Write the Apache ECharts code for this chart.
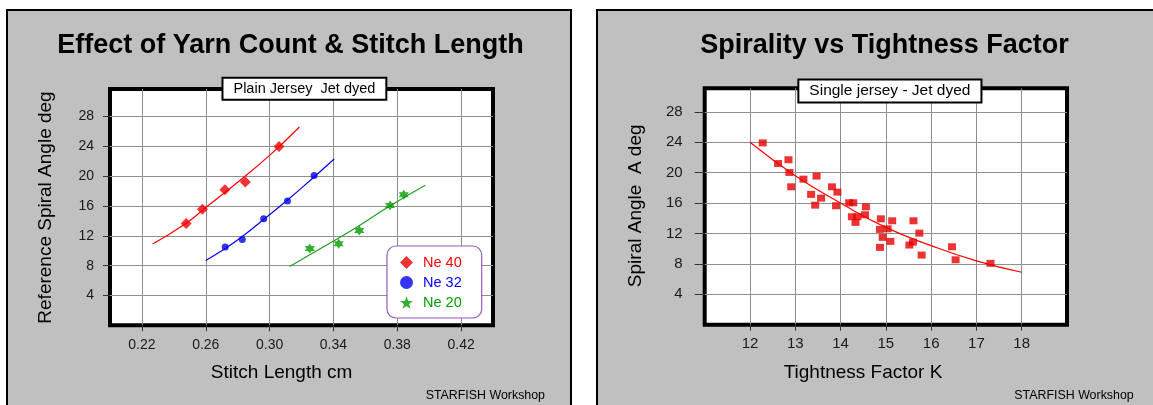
<!DOCTYPE html>
<html>
<head>
<meta charset="utf-8">
<script src="https://cdn.jsdelivr.net/npm/echarts@6/dist/echarts.min.js"></script>
<style>
  html, body { margin: 0; padding: 0; background: #ffffff; }
  .panel { position: absolute; box-sizing: border-box; border: 2px solid #000; background: #c0c0c0; }
  #p1 { left: 6px; top: 9px; width: 566px; height: 430px; }
  #p2 { left: 596px; top: 9px; width: 620px; height: 430px; }
  #chart { position: absolute; left: 0; top: 0; width: 1153px; height: 405px; }
</style>
</head>
<body>
<div class="panel" id="p1"></div>
<div class="panel" id="p2"></div>
<div id="chart"></div>
<script>
// ---- Left chart data: Effect of Yarn Count & Stitch Length ----
const ne40 = [[0.2477, 13.65], [0.2579, 15.58], [0.2720, 18.17], [0.2848, 19.24], [0.3059, 23.97]];
const ne32 = [[0.2722, 10.49], [0.2829, 11.50], [0.2963, 14.28], [0.3112, 16.69], [0.3279, 20.09]];
const ne20 = [[0.3252, 10.30], [0.3433, 10.93], [0.3562, 12.71], [0.3755, 16.06], [0.3841, 17.50]];
const fit40 = [[0.2267, 10.9], [0.2477, 13.7], [0.2600, 15.8], [0.2800, 19.2], [0.3000, 22.8], [0.3187, 26.6]];
const fit32 = [[0.2600, 8.7], [0.2722, 10.3], [0.2829, 11.9], [0.2963, 14.2], [0.3112, 16.8], [0.3279, 19.9], [0.3405, 22.3]];
const fit20 = [[0.3126, 7.9], [0.3400, 11.3], [0.3556, 13.3], [0.3748, 15.95], [0.3976, 18.8]];
const leftXTicks = [0.22, 0.26, 0.30, 0.34, 0.38, 0.42];
const yTicks = [4, 8, 12, 16, 20, 24, 28];

// ---- Right chart data: Spirality vs Tightness Factor ----
const tfPoints = [
  [12.28, 23.92], [12.62, 21.2], [12.85, 21.7], [12.87, 20.03], [12.91, 18.14],
  [13.18, 19.15], [13.47, 19.55], [13.35, 17.14], [13.57, 16.65], [13.44, 15.73],
  [13.81, 18.14], [13.93, 17.44], [13.90, 15.64], [14.19, 16.04], [14.28, 16.04],
  [14.56, 15.51], [14.25, 14.2], [14.37, 14.2], [14.33, 13.46], [14.54, 14.46],
  [14.89, 13.93], [15.14, 13.67], [14.87, 12.54], [15.04, 12.62], [14.93, 11.49],
  [14.87, 10.17], [15.10, 10.96], [15.61, 13.67], [15.74, 12.05], [15.52, 10.48],
  [15.60, 10.87], [15.79, 9.16], [16.46, 10.25], [16.54, 8.54], [17.31, 8.07]
];
const fitTF = [[12, 24.0], [13, 19.6], [14, 16.0], [15, 12.8], [16, 10.4], [17, 8.4], [18, 6.9]];
const rightXTicks = [12, 13, 14, 15, 16, 17, 18];

const FONT = "'Liberation Sans', Arial, Helvetica, sans-serif";
const HEXAGRAM = 'path://M0,-10L8.66,5L-8.66,5Z M0,10L-8.66,-5L8.66,-5Z';
const STAR5 = 'path://M0,-10L2.35,-3.24L9.51,-3.09L3.8,1.24L5.88,8.09L0,4L-5.88,8.09L-3.8,1.24L-9.51,-3.09L-2.35,-3.24Z';
const GRID_LINE = '#8f8f8f';
const LABEL_COLOR = '#1a1a1a';

function xAxisCfg(gridIndex, min, max, interval, ticks, fontSize, margin) {
  return {
    type: 'value', gridIndex, min, max, interval,
    axisLine: { show: false },
    axisTick: { show: true, length: 6, customValues: ticks, lineStyle: { color: '#333', width: 1 } },
    axisLabel: { customValues: ticks, color: LABEL_COLOR, fontSize, fontFamily: FONT, margin,
      formatter: v => (interval < 1 ? v.toFixed(2) : String(v)) },
    splitLine: { show: true, lineStyle: { color: GRID_LINE, width: 1 } }
  };
}
function yAxisCfg(gridIndex, max, fontSize, margin, tickLen) {
  return {
    type: 'value', gridIndex, min: 0, max, interval: 4,
    axisLine: { show: false },
    axisTick: { show: true, length: tickLen, customValues: yTicks, lineStyle: { color: '#333', width: 1 } },
    axisLabel: { customValues: yTicks, color: LABEL_COLOR, fontSize, fontFamily: FONT, margin },
    splitLine: { show: true, lineStyle: { color: GRID_LINE, width: 1 } }
  };
}

const chart = echarts.init(document.getElementById('chart'), null, { renderer: 'canvas' });
const option = {
  animation: false,
  backgroundColor: 'transparent',
  textStyle: { fontFamily: FONT },
  grid: [
    { left: 110, top: 89, width: 383, height: 236.3, show: true, backgroundColor: '#ffffff', borderColor: '#000', borderWidth: 4 },
    { left: 704.7, top: 88.3, width: 362.3, height: 236.4, show: true, backgroundColor: '#ffffff', borderColor: '#000', borderWidth: 4 }
  ],
  xAxis: [
    xAxisCfg(0, 0.2, 0.44, 0.02, leftXTicks, 14, 13),
    xAxisCfg(1, 11, 19, 1, rightXTicks, 15, 12)
  ],
  yAxis: [
    yAxisCfg(0, 31.7, 14, 16, 7),
    yAxisCfg(1, 31.1, 15, 22, 10)
  ],
  legend: {
    left: 387, top: 246, orient: 'vertical',
    backgroundColor: '#ffffff', borderColor: '#9b59b6', borderWidth: 1.2, borderRadius: 9,
    padding: [9, 20, 8, 13], itemGap: 5, itemWidth: 13, itemHeight: 13,
    textStyle: { fontSize: 14.5, fontFamily: FONT, padding: [0, 0, 0, 5] },
    data: [
      { name: 'Ne 40', icon: 'diamond', textStyle: { color: '#ff0000' } },
      { name: 'Ne 32', icon: 'circle', textStyle: { color: '#0000ff' } },
      { name: 'Ne 20', icon: STAR5, textStyle: { color: '#00a000' } }
    ]
  },
  series: [
    { name: 'fit40', type: 'line', xAxisIndex: 0, yAxisIndex: 0, data: fit40, smooth: true, showSymbol: false, lineStyle: { color: '#ff0000', width: 1.2 }, z: 3 },
    { name: 'fit32', type: 'line', xAxisIndex: 0, yAxisIndex: 0, data: fit32, smooth: true, showSymbol: false, lineStyle: { color: '#0000ff', width: 1.2 }, z: 3 },
    { name: 'fit20', type: 'line', xAxisIndex: 0, yAxisIndex: 0, data: fit20, smooth: true, showSymbol: false, lineStyle: { color: '#1ea01e', width: 1.2 }, z: 3 },
    { name: 'Ne 40', type: 'scatter', xAxisIndex: 0, yAxisIndex: 0, data: ne40, symbol: 'diamond', symbolSize: 11, itemStyle: { color: '#ee0000' }, z: 4 },
    { name: 'Ne 32', type: 'scatter', xAxisIndex: 0, yAxisIndex: 0, data: ne32, symbol: 'circle', symbolSize: 7, itemStyle: { color: '#0000ee' }, z: 4 },
    { name: 'Ne 20', type: 'scatter', xAxisIndex: 0, yAxisIndex: 0, data: ne20, symbol: HEXAGRAM, symbolSize: 10, itemStyle: { color: '#009900' }, z: 4 },
    { name: 'fitTF', type: 'line', xAxisIndex: 1, yAxisIndex: 1, data: fitTF, smooth: true, showSymbol: false, lineStyle: { color: '#ff0000', width: 1.2 }, z: 3 },
    { name: 'TF', type: 'scatter', xAxisIndex: 1, yAxisIndex: 1, data: tfPoints, symbol: 'rect', symbolSize: [8, 7], itemStyle: { color: '#e60000' }, z: 4 }
  ],
  graphic: [
    { type: 'text', x: 290.5, y: 46, z: 100, style: { text: 'Effect of Yarn Count & Stitch Length', font: 'bold 27px ' + FONT, fill: '#000', align: 'center', verticalAlign: 'middle' } },
    { type: 'text', x: 884.5, y: 46, z: 100, style: { text: 'Spirality vs Tightness Factor', font: 'bold 27px ' + FONT, fill: '#000', align: 'center', verticalAlign: 'middle' } },
    { type: 'text', x: 304.4, y: 88.8, z: 100, style: { text: 'Plain Jersey  Jet dyed', font: '14.5px ' + FONT, fill: '#000', align: 'center', verticalAlign: 'middle', backgroundColor: '#fff', borderColor: '#000', borderWidth: 2, padding: [3, 10, 2, 10] } },
    { type: 'text', x: 889.9, y: 90.9, z: 100, style: { text: 'Single jersey - Jet dyed', font: '15.5px ' + FONT, fill: '#000', align: 'center', verticalAlign: 'middle', backgroundColor: '#fff', borderColor: '#000', borderWidth: 2, padding: [3, 10, 2, 10] } },
    { type: 'text', x: 281.6, y: 373, z: 100, style: { text: 'Stitch Length cm', font: '19px ' + FONT, fill: '#000', align: 'center', verticalAlign: 'middle' } },
    { type: 'text', x: 863, y: 373, z: 100, style: { text: 'Tightness Factor K', font: '19px ' + FONT, fill: '#000', align: 'center', verticalAlign: 'middle' } },
    { type: 'text', x: 46, y: 207.5, rotation: Math.PI / 2, z: 100, style: { text: 'Reference Spiral Angle deg', font: '19px ' + FONT, fill: '#000', align: 'center', verticalAlign: 'middle' } },
    { type: 'text', x: 635.6, y: 205.8, rotation: Math.PI / 2, z: 100, style: { text: 'Spiral Angle  A deg', font: '19px ' + FONT, fill: '#000', align: 'center', verticalAlign: 'middle' } },
    { type: 'text', x: 545, y: 396, z: 100, style: { text: 'STARFISH Workshop', font: '12.4px ' + FONT, fill: '#000', align: 'right', verticalAlign: 'middle' } },
    { type: 'text', x: 1133.7, y: 396, z: 100, style: { text: 'STARFISH Workshop', font: '12.4px ' + FONT, fill: '#000', align: 'right', verticalAlign: 'middle' } }
  ]
};
chart.setOption(option);
</script>
</body>
</html>
